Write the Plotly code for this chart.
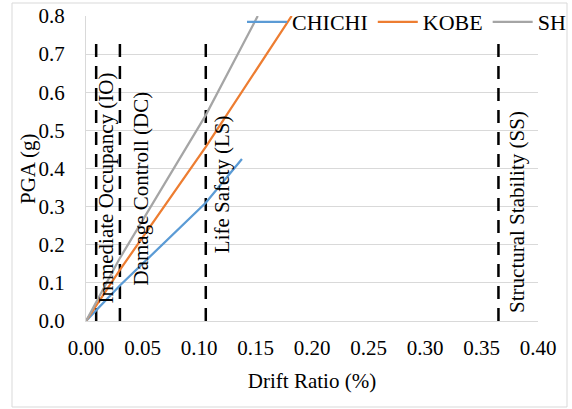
import plotly.graph_objects as go

# Data
chichi_x = [0.0, 0.03, 0.106, 0.138]
chichi_y = [0.0, 0.093, 0.31, 0.425]
kobe_x = [0.0, 0.03, 0.106, 0.182]
kobe_y = [0.0, 0.134, 0.457, 0.80]
sh_x = [0.0, 0.03, 0.106, 0.152]
sh_y = [0.0, 0.165, 0.54, 0.80]

limit_names = ["Immediate Occupancy (IO)", "Damage Controll (DC)", "Life Safety (LS)", "Structural Stability (SS)"]
limit_x = [0.009, 0.030, 0.106, 0.365]
limit_top = 0.74
label_x = [0.0185, 0.0487, 0.121, 0.382]
label_y = [0.042, 0.088, 0.172, 0.015]

x_ticks = [0.0, 0.05, 0.10, 0.15, 0.20, 0.25, 0.30, 0.35, 0.40]
y_ticks = [0.0, 0.1, 0.2, 0.3, 0.4, 0.5, 0.6, 0.7, 0.8]

FONT = "Liberation Serif, Times New Roman, serif"
W, H = 572, 409
ML, MR, MT, MB = 86, 34, 16, 88

fig = go.Figure()

for lx in limit_x:
    fig.add_trace(go.Scatter(x=[lx, lx], y=[0, limit_top], mode="lines",
                             line=dict(color="black", width=2.5, dash="13px,9px"),
                             showlegend=False, hoverinfo="skip"))

fig.add_trace(go.Scatter(x=chichi_x, y=chichi_y, mode="lines", name="CHICHI",
                         line=dict(color="#5B9BD5", width=2.25)))
fig.add_trace(go.Scatter(x=kobe_x, y=kobe_y, mode="lines", name="KOBE",
                         line=dict(color="#ED7D31", width=2.25)))
fig.add_trace(go.Scatter(x=sh_x, y=sh_y, mode="lines", name="SH",
                         line=dict(color="#A5A5A5", width=2.25)))

for name, x, y in zip(limit_names, label_x, label_y):
    fig.add_annotation(x=x, y=y, xref="x", yref="y", text=name, textangle=-90,
                       showarrow=False, xanchor="center", yanchor="bottom",
                       font=dict(family=FONT, size=21, color="black"))

pw = W - ML - MR
ph = H - MT - MB

# y-axis title
fig.add_annotation(x=(27.5 - ML) / pw, y=0.5, xref="paper", yref="paper",
                   text="PGA (g)", textangle=-90, showarrow=False,
                   xanchor="center", yanchor="middle",
                   font=dict(family=FONT, size=21, color="black"))

fig.add_shape(type="rect", xref="paper", yref="paper",
              x0=(12 - ML) / pw, x1=(567 - ML) / pw,
              y0=-(407 - (H - MB)) / ph, y1=((H - MB) - 3) / ph,
              line=dict(color="#d9d9d9", width=1), layer="below")

fig.update_layout(
    width=W, height=H,
    margin=dict(l=ML, r=MR, t=MT, b=MB, pad=0, autoexpand=False),
    paper_bgcolor="white", plot_bgcolor="white",
    font=dict(family=FONT, size=21, color="black"),
    legend=dict(orientation="h", x=(242 - ML) / pw, y=(H - MB - 22) / ph,
                xanchor="left", yanchor="middle", bgcolor="rgba(0,0,0,0)",
                font=dict(family=FONT, size=22, color="black"),
                tracegroupgap=0, itemwidth=40),
    xaxis=dict(range=[0, 0.40], tickvals=x_ticks, tickformat=".2f",
               showgrid=False, zeroline=False, showline=True, linecolor="#d9d9d9",
               linewidth=1, ticks="", ticklabelstandoff=8, automargin=False,
               title=dict(text="Drift Ratio (%)", standoff=14,
                          font=dict(family=FONT, size=21, color="black")),
               tickfont=dict(family=FONT, size=21, color="black")),
    yaxis=dict(range=[0, 0.80], tickvals=y_ticks, tickformat=".1f",
               showgrid=True, gridcolor="#d9d9d9", gridwidth=1, zeroline=False,
               showline=True, linecolor="#d9d9d9", linewidth=1, ticks="",
               ticklabelstandoff=16, automargin=False,
               tickfont=dict(family=FONT, size=21, color="black")),
)

fig.write_html("out.html", config={"displayModeBar": False},
               post_script="document.body.style.margin='0px';document.body.style.padding='0px';")
